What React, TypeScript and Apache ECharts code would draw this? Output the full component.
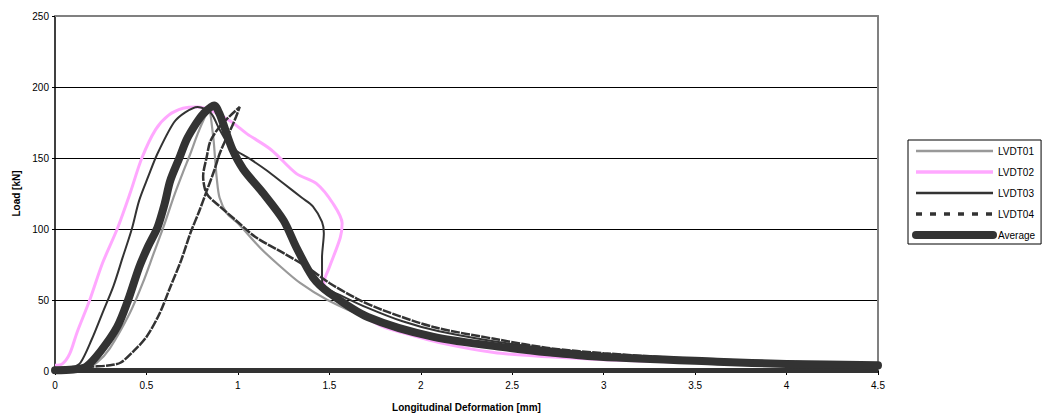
import React, { useEffect, useRef } from "react";
import * as echarts from "echarts";

const xTicks = { min: 0, max: 4.5, interval: 0.5 };
const yTicks = { min: 0, max: 250, interval: 50 };

const seriesNames = ["LVDT01", "LVDT02", "LVDT03", "LVDT04", "Average"];

const lvdt01: number[][] = [
  [0, 0.5], [0.1, 1], [0.18, 3], [0.23, 6], [0.3, 16], [0.41, 41], [0.48, 62], [0.54, 83],
  [0.6, 104], [0.65, 123], [0.7, 140], [0.74, 153], [0.78, 167], [0.82, 179], [0.84, 184],
  [0.865, 165], [0.875, 150], [0.885, 135], [0.9, 122], [0.94, 111], [1.0, 104], [1.12, 87],
  [1.22, 75], [1.34, 62], [1.49, 50], [1.7, 38], [2.0, 27], [2.5, 16], [3.0, 10.5],
  [3.5, 7.5], [4.0, 5.5], [4.5, 4],
];

const lvdt02: number[][] = [
  [0, 4], [0.04, 5], [0.08, 12], [0.12, 27], [0.19, 50], [0.26, 76], [0.34, 100], [0.41, 125],
  [0.475, 150], [0.55, 170], [0.62, 180], [0.7, 185], [0.78, 186], [0.86, 183], [0.97, 175],
  [1.05, 167], [1.18, 156], [1.32, 139], [1.43, 132], [1.52, 118], [1.57, 104], [1.56, 94],
  [1.5, 73], [1.47, 62], [1.5, 55], [1.6, 45], [1.78, 32], [1.9, 27], [2.1, 20], [2.4, 13],
  [2.7, 10], [3.0, 8], [3.5, 6], [4.0, 4.5], [4.5, 3.5],
];

const lvdt03: number[][] = [
  [0, 2], [0.1, 3], [0.14, 6], [0.2, 22], [0.26, 41], [0.32, 60], [0.37, 80], [0.42, 100],
  [0.46, 120], [0.51, 137], [0.56, 153], [0.65, 175], [0.71, 182], [0.78, 186], [0.85, 182],
  [0.9, 170], [0.96, 158], [1.07, 149], [1.16, 141], [1.25, 132], [1.35, 122], [1.41, 116],
  [1.46, 105], [1.47, 97], [1.46, 80], [1.46, 66], [1.47, 59], [1.55, 54], [1.7, 45],
  [1.9, 35], [2.1, 28], [2.5, 19], [3.0, 12], [3.5, 8.5], [4.0, 6], [4.5, 4.5],
];

const lvdt04: number[][] = [
  [0, 1], [0.1, 2], [0.2, 3], [0.3, 4], [0.36, 6], [0.43, 14], [0.5, 24], [0.57, 40],
  [0.63, 59], [0.69, 78], [0.74, 97], [0.79, 113], [0.83, 127], [0.87, 141], [0.9, 153],
  [0.93, 162], [0.96, 170], [0.99, 179], [1.01, 186], [0.96, 180], [0.9, 172], [0.85, 162],
  [0.83, 151], [0.81, 137], [0.82, 128], [0.84, 123], [0.9, 116], [0.99, 106], [1.1, 94],
  [1.25, 83], [1.38, 73], [1.5, 62], [1.65, 51], [1.79, 43], [2.07, 31], [2.43, 22],
  [2.71, 16], [3.0, 12.5], [3.5, 8.5], [4.0, 6.5], [4.5, 5],
];

const average: number[][] = [
  [0, 0.5], [0.1, 1], [0.17, 3], [0.25, 14], [0.34, 31], [0.4, 50], [0.46, 73], [0.51, 88],
  [0.56, 101], [0.6, 118], [0.63, 134], [0.68, 150], [0.72, 163], [0.77, 174], [0.81, 181],
  [0.87, 187], [0.9, 181], [0.92, 174], [0.97, 156], [1.03, 142], [1.14, 125], [1.25, 106],
  [1.32, 87], [1.41, 66], [1.5, 55], [1.71, 38], [2.07, 24], [2.5, 16], [2.71, 13],
  [2.98, 10], [3.62, 6.6], [4.0, 5], [4.5, 4],
];

const averageBase: number[][] = [
  [0, 0.3], [4.5, 0.3],
];

const FONT = "'Liberation Sans', Arial, sans-serif";

export default function App() {
  const ref = useRef<HTMLDivElement>(null);
  useEffect(() => {
    if (!ref.current) return;
    const chart = echarts.init(ref.current, null, { renderer: "svg" });
    const lineSeries = (name: string, data: number[][], color: string, width: number, extra: any = {}) => ({
      name,
      type: "line",
      data,
      showSymbol: false,
      symbol: "none",
      smooth: 0.3,
      lineStyle: { color, width, ...extra },
      itemStyle: { color },
      xAxisIndex: 0,
      yAxisIndex: 0,
    });
    const hiddenSymbol = { color: "rgba(0,0,0,0)", borderColor: "rgba(0,0,0,0)", borderWidth: 0 };
    chart.setOption({
      animation: false,
      backgroundColor: "#ffffff",
      textStyle: { fontFamily: FONT },
      grid: { left: 55, top: 16, right: 168, bottom: 49, containLabel: false },
      legend: {
        orient: "vertical",
        left: 908,
        top: 140,
        padding: [6, 6, 4, 4],
        itemGap: 11,
        itemWidth: 77,
        itemHeight: 10,
        borderColor: "#000000",
        borderWidth: 1,
        itemStyle: hiddenSymbol,
        textStyle: { fontSize: 10, color: "#000", fontFamily: FONT },
        data: [
          { name: "LVDT01", itemStyle: hiddenSymbol, lineStyle: { width: 2.5, color: "#999999" } },
          { name: "LVDT02", itemStyle: hiddenSymbol, lineStyle: { width: 3.5, color: "#ffa8ff" } },
          { name: "LVDT03", itemStyle: hiddenSymbol, lineStyle: { width: 2.5, color: "#333333" } },
          { name: "LVDT04", itemStyle: hiddenSymbol, lineStyle: { type: [6, 8], width: 3.5, color: "#333333" } },
          { name: "Average", itemStyle: hiddenSymbol, lineStyle: { width: 8, color: "#333333", cap: "round" } },
        ],
      },
      xAxis: [
        {
          type: "value",
          min: xTicks.min,
          max: xTicks.max,
          interval: xTicks.interval,
          name: "Longitudinal Deformation [mm]",
          nameLocation: "middle",
          nameGap: 31,
          nameTextStyle: { fontSize: 10, fontWeight: "bold", color: "#000", fontFamily: FONT },
          axisLine: { show: true, onZero: false, lineStyle: { color: "#000", width: 1.5 } },
          axisTick: { show: true, length: 4, lineStyle: { color: "#000" } },
          axisLabel: { fontSize: 10, color: "#000", margin: 9, fontFamily: FONT },
          splitLine: { show: false },
        },
        {
          type: "value",
          position: "top",
          min: xTicks.min,
          max: xTicks.max,
          axisLine: { show: true, onZero: false, lineStyle: { color: "#808080", width: 2 } },
          axisTick: { show: false },
          axisLabel: { show: false },
          splitLine: { show: false },
        },
      ],
      yAxis: [
        {
          type: "value",
          min: yTicks.min,
          max: yTicks.max,
          interval: yTicks.interval,
          name: "Load [kN]",
          nameLocation: "middle",
          nameGap: 30,
          nameRotate: 90,
          nameTextStyle: { fontSize: 10, fontWeight: "bold", color: "#000", fontFamily: FONT },
          axisLine: { show: true, onZero: false, lineStyle: { color: "#000", width: 1.5 } },
          axisTick: { show: true, length: 3, lineStyle: { color: "#000" } },
          axisLabel: { fontSize: 10, color: "#000", margin: 6, fontFamily: FONT },
          splitLine: { show: true, lineStyle: { color: "#000", width: 1 } },
        },
        {
          type: "value",
          position: "right",
          min: yTicks.min,
          max: yTicks.max,
          axisLine: { show: true, onZero: false, lineStyle: { color: "#808080", width: 2 } },
          axisTick: { show: false },
          axisLabel: { show: false },
          splitLine: { show: false },
        },
      ],
      series: [
        lineSeries(seriesNames[0], lvdt01, "#999999", 2.2),
        lineSeries(seriesNames[1], lvdt02, "#ffa8ff", 3),
        lineSeries(seriesNames[2], lvdt03, "#333333", 2),
        lineSeries(seriesNames[3], lvdt04, "#333333", 2.5, { type: [9, 1.2] }),
        { ...lineSeries(seriesNames[4], averageBase, "#333333", 5), smooth: false },
        lineSeries(seriesNames[4], average, "#333333", 8, { cap: "round", join: "round" }),
      ],
    });
    return () => chart.dispose();
  }, []);
  return (
    <div
      ref={ref}
      style={{ position: "fixed", left: 0, top: 0, width: 1046, height: 420, background: "#fff" }}
    />
  );
}
